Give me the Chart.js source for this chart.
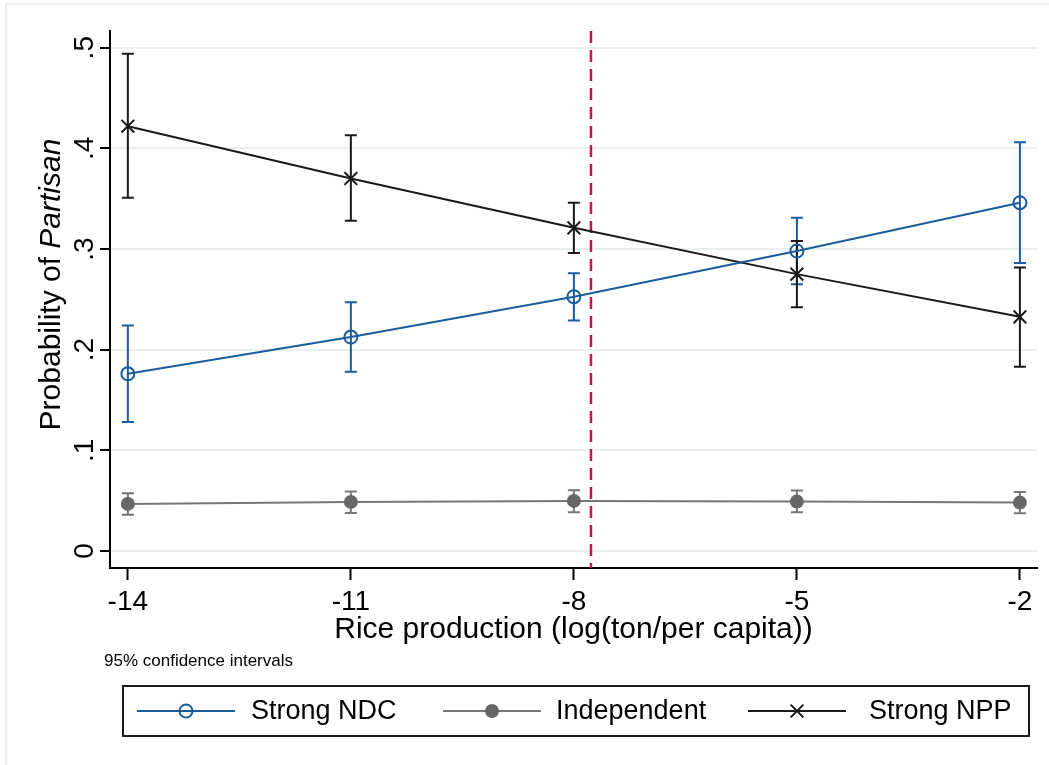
<!DOCTYPE html>
<html>
<head>
<meta charset="utf-8">
<script src="https://cdn.jsdelivr.net/npm/chart.js@4.4.1/dist/chart.umd.min.js"></script>
<style>
  body { margin: 0; background: #fff; }
  #wrap { width: 1049px; height: 765px; }
</style>
</head>
<body>
<div id="wrap"><canvas id="chart" width="1049" height="765"></canvas></div>
<script>
const xValues = [-14, -11, -8, -5, -2]
const xTicks = [-14, -11, -8, -5, -2]
const yTicks = [0, 0.1, 0.2, 0.3, 0.4, 0.5]
const yTickLabels = ['0', '.1', '.2', '.3', '.4', '.5']

const ndcProb = [0.176, 0.2125, 0.2526, 0.298, 0.346]
const ndcLow = [0.128, 0.178, 0.229, 0.265, 0.286]
const ndcHigh = [0.224, 0.247, 0.276, 0.331, 0.406]

const indProb = [0.0467, 0.0487, 0.0497, 0.049, 0.048]
const indLow = [0.036, 0.0377, 0.0384, 0.0384, 0.0374]
const indHigh = [0.0573, 0.059, 0.0603, 0.060, 0.0586]

const nppProb = [0.422, 0.370, 0.321, 0.275, 0.2326]
const nppLow = [0.351, 0.328, 0.296, 0.242, 0.183]
const nppHigh = [0.494, 0.413, 0.346, 0.308, 0.2817]

const cutoff = -7.77
const seriesLabels = ['Strong NDC', 'Independent', 'Strong NPP']
const yTitleMain = 'Probability of '
const yTitleItalic = 'Partisan'
const xTitle = 'Rice production (log(ton/per capita))'
const noteText = '95% confidence intervals'

const FONT = "'Liberation Sans', Arial, Helvetica, sans-serif"
const BLUE = '#1b5c9b'
const GRAY = '#676767'
const BLACK = '#1a1a1a'

const toPoints = (ys) => xValues.map((x, i) => ({ x: x, y: ys[i] }))

const ciLow = [ndcLow, indLow, nppLow]
const ciHigh = [ndcHigh, indHigh, nppHigh]

// little marker helper, used for the legend samples
const drawMarker = (ctx, ds, x, y) => {
    ctx.save()
    ctx.lineWidth = ds.pointBorderWidth
    ctx.strokeStyle = ds.pointBorderColor
    ctx.fillStyle = ds.pointBackgroundColor
    const r = ds.pointRadius
    if (ds.pointStyle === 'crossRot') {
        const d = r * Math.SQRT1_2
        ctx.beginPath()
        ctx.moveTo(x - d, y - d); ctx.lineTo(x + d, y + d)
        ctx.moveTo(x - d, y + d); ctx.lineTo(x + d, y - d)
        ctx.stroke()
    } else {
        ctx.beginPath()
        ctx.arc(x, y, r, 0, Math.PI * 2)
        ctx.fill()
        if (ds.pointBorderWidth > 0) ctx.stroke()
    }
    ctx.restore()
}

const stataExtras = {
    id: 'stataExtras',
    beforeDraw(chart) {
        const ctx = chart.ctx
        ctx.save()
        ctx.strokeStyle = '#e3ebee'
        ctx.lineWidth = 1.5
        ctx.strokeRect(6, 4, 1200, 900)
        ctx.restore()
    },
    beforeDatasetsDraw(chart) {
        const ctx = chart.ctx
        const xs = chart.scales.x
        const ys = chart.scales.y
        const area = chart.chartArea

        // cutoff line
        ctx.save()
        const cx = xs.getPixelForValue(cutoff)
        ctx.strokeStyle = '#c8134a'
        ctx.lineWidth = 2.5
        ctx.setLineDash([12, 7])
        ctx.beginPath()
        ctx.moveTo(cx, area.top)
        ctx.lineTo(cx, area.bottom)
        ctx.stroke()
        ctx.restore()

        // confidence intervals
        chart.data.datasets.forEach((ds, d) => {
            ctx.save()
            ctx.strokeStyle = ds.borderColor
            ctx.lineWidth = 2
            xValues.forEach((xv, i) => {
                const px = xs.getPixelForValue(xv)
                const lo = ys.getPixelForValue(ciLow[d][i])
                const hi = ys.getPixelForValue(ciHigh[d][i])
                ctx.beginPath()
                ctx.moveTo(px, lo); ctx.lineTo(px, hi)
                ctx.moveTo(px - 6, lo); ctx.lineTo(px + 6, lo)
                ctx.moveTo(px - 6, hi); ctx.lineTo(px + 6, hi)
                ctx.stroke()
            })
            ctx.restore()
        })
    },
    afterDraw(chart) {
        const ctx = chart.ctx
        const area = chart.chartArea

        // y axis title with italic word
        ctx.save()
        const f1 = `30px ${FONT}`
        const f2 = `italic 30px ${FONT}`
        ctx.font = f1
        const w1 = ctx.measureText(yTitleMain).width
        ctx.font = f2
        const w2 = ctx.measureText(yTitleItalic).width
        ctx.translate(52, (area.top + area.bottom) / 2 - 15)
        ctx.rotate(-Math.PI / 2)
        ctx.fillStyle = '#000'
        ctx.textBaseline = 'middle'
        ctx.textAlign = 'left'
        ctx.font = f1
        ctx.fillText(yTitleMain, -(w1 + w2) / 2, 0)
        ctx.font = f2
        ctx.fillText(yTitleItalic, -(w1 + w2) / 2 + w1, 0)
        ctx.restore()

        // note
        ctx.save()
        ctx.font = `17px ${FONT}`
        ctx.fillStyle = '#000'
        ctx.textBaseline = 'middle'
        ctx.fillText(noteText, 104, 661)
        ctx.restore()

        // legend box
        ctx.save()
        ctx.strokeStyle = '#1a1a1a'
        ctx.lineWidth = 2
        ctx.strokeRect(123, 686, 906, 50)
        const centers = [186, 492, 797]
        const textX = [251, 556, 869]
        const ly = 711
        chart.data.datasets.forEach((ds, d) => {
            ctx.strokeStyle = ds.borderColor
            ctx.lineWidth = ds.borderWidth
            ctx.beginPath()
            ctx.moveTo(centers[d] - 49, ly)
            ctx.lineTo(centers[d] + 49, ly)
            ctx.stroke()
            drawMarker(ctx, ds, centers[d], ly)
            ctx.font = `27px ${FONT}`
            ctx.fillStyle = '#000'
            ctx.textBaseline = 'middle'
            ctx.fillText(ds.label, textX[d], ly + 1)
        })
        ctx.restore()
    }
}

const chart = new Chart(document.getElementById('chart'), {
    type: 'line',
    data: {
        datasets: [
            {
                label: seriesLabels[0],
                data: toPoints(ndcProb),
                borderColor: BLUE,
                borderWidth: 2,
                pointStyle: 'circle',
                pointRadius: 6.5,
                pointBorderWidth: 2,
                pointBorderColor: BLUE,
                pointBackgroundColor: 'rgba(0,0,0,0)'
            },
            {
                label: seriesLabels[1],
                data: toPoints(indProb),
                borderColor: '#777777',
                borderWidth: 2,
                pointStyle: 'circle',
                pointRadius: 7,
                pointBorderWidth: 0,
                pointBorderColor: GRAY,
                pointBackgroundColor: GRAY
            },
            {
                label: seriesLabels[2],
                data: toPoints(nppProb),
                borderColor: BLACK,
                borderWidth: 2,
                pointStyle: 'crossRot',
                pointRadius: 9,
                pointBorderWidth: 2,
                pointBorderColor: BLACK,
                pointBackgroundColor: BLACK
            }
        ]
    },
    options: {
        responsive: false,
        animation: false,
        devicePixelRatio: 1,
        layout: { padding: { left: 0, top: 31, right: 12, bottom: 117 } },
        elements: { line: { tension: 0, fill: false } },
        plugins: {
            legend: { display: false },
            tooltip: { enabled: false }
        },
        scales: {
            x: {
                type: 'linear',
                min: -14.24,
                max: -1.77,
                afterBuildTicks: (s) => { s.ticks = xTicks.map(v => ({ value: v })) },
                afterFit: (s) => { s.height = 80 },
                ticks: {
                    callback: (v) => String(v),
                    font: { family: FONT, size: 28 },
                    color: '#000',
                    padding: 5,
                    maxRotation: 0,
                    autoSkip: false
                },
                grid: { drawOnChartArea: false, tickLength: 12, tickColor: '#000', tickWidth: 2 },
                border: { color: '#000', width: 2 },
                title: {
                    display: true,
                    text: xTitle,
                    font: { family: FONT, size: 30 },
                    color: '#000',
                    padding: { top: 0, bottom: 0 }
                }
            },
            y: {
                min: -0.017,
                max: 0.5166,
                afterBuildTicks: (s) => { s.ticks = yTicks.map(v => ({ value: v })) },
                afterFit: (s) => { s.width = 110 },
                ticks: {
                    callback: (v, i) => yTickLabels[i],
                    font: { family: FONT, size: 28 },
                    color: '#000',
                    minRotation: 90,
                    maxRotation: 90,
                    crossAlign: 'center',
                    padding: 3,
                    autoSkip: false
                },
                grid: { color: '#e9f0f2', lineWidth: 2, tickLength: 10, tickColor: '#000', tickWidth: 2 },
                border: { color: '#000', width: 2 },
                title: { display: false }
            }
        }
    },
    plugins: [stataExtras]
})
</script>
</body>
</html>
